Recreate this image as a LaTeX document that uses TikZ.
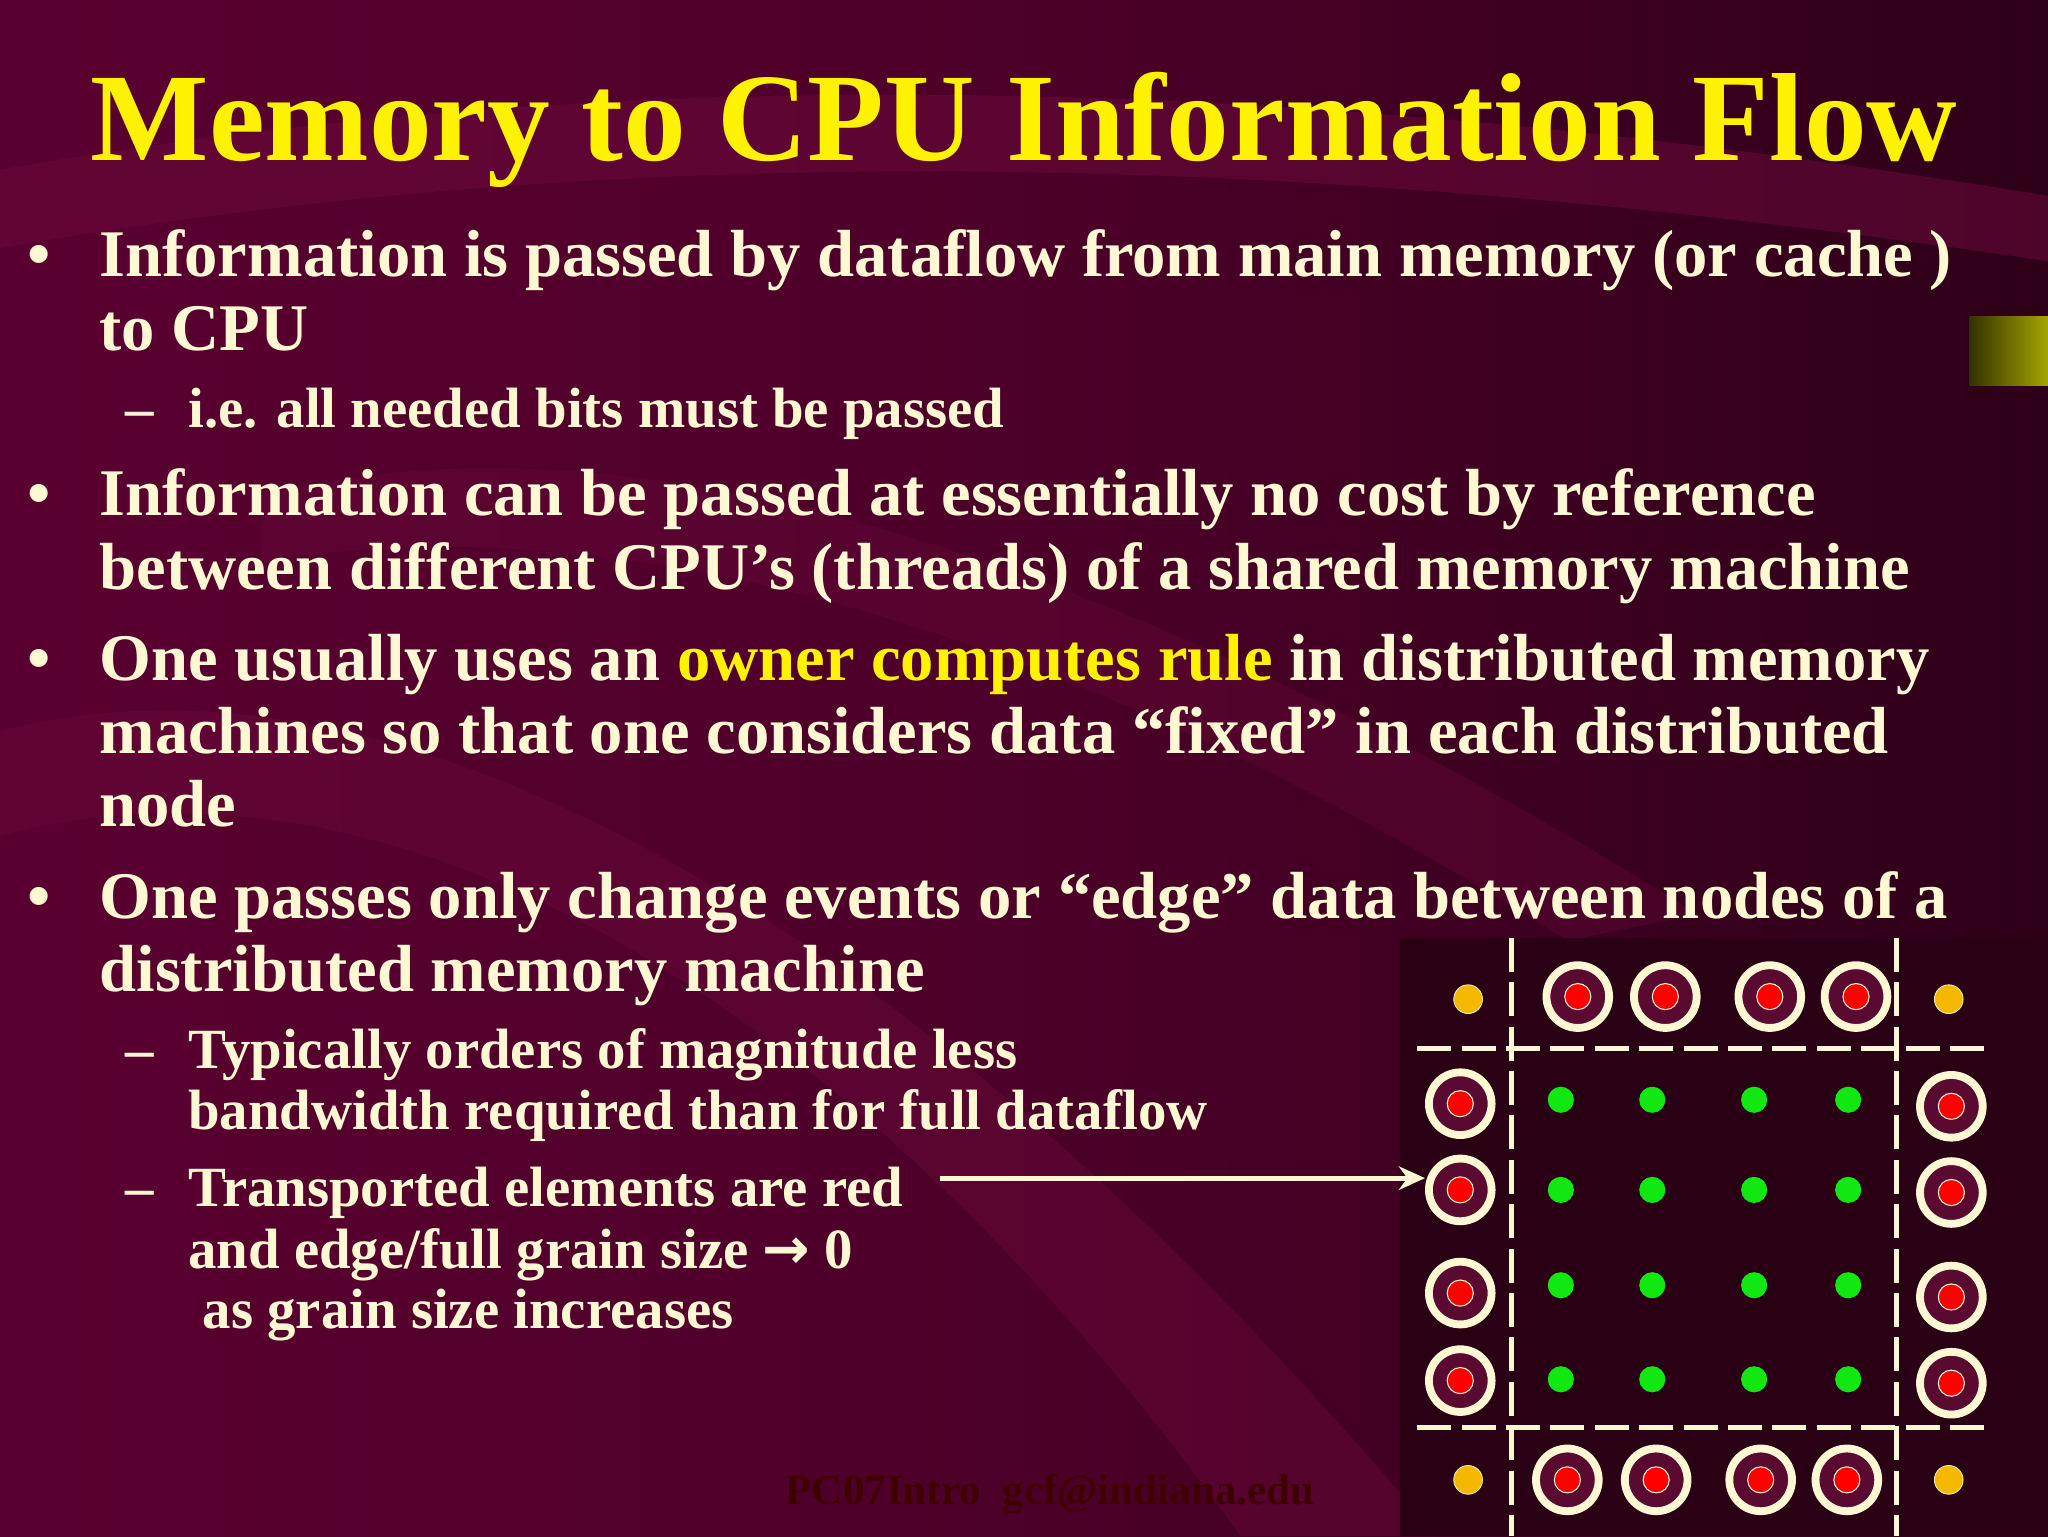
\documentclass[tikz,border=0pt]{standalone}
\usepackage{fontspec}
\usetikzlibrary{arrows.meta}
\setmainfont{Liberation Serif}
\newfontfamily\djv{DejaVu Sans}
\definecolor{cream}{HTML}{FFF8D2}
\definecolor{bgA}{HTML}{5A0030}
\definecolor{bgB}{HTML}{2E0018}
\definecolor{band}{HTML}{6A0A3A}
\definecolor{boxc}{HTML}{2A0014}
\definecolor{ringin}{HTML}{5A0A30}
\definecolor{gold}{HTML}{F5B800}
\definecolor{grn}{HTML}{11E811}
\tikzset{
  body/.style={anchor=base west,inner sep=0pt,text=cream,font=\fontsize{51}{56}\selectfont\bfseries},
  sub/.style={anchor=base west,inner sep=0pt,text=cream,font=\fontsize{43.5}{48}\selectfont\bfseries},
  ring/.style={circle,draw=cream,line width=6pt,fill=ringin,minimum size=48pt,inner sep=0pt},
  reddot/.style={circle,draw=cream,line width=0.8pt,fill=red,minimum size=20pt,inner sep=0pt},
  gdot/.style={circle,fill=grn,minimum size=20pt,inner sep=0pt},
  ydot/.style={circle,fill=gold,draw=cream,line width=0.6pt,minimum size=22pt,inner sep=0pt},
  dashline/.style={draw=cream,line width=4pt,dash pattern=on 26pt off 8pt},
}
\newcommand{\ringed}[3]{\node[ring] (#1) at (#2,#3) {}; \node[reddot] at (#1) {};}
\begin{document}
\begin{tikzpicture}[x=1pt,y=-1pt]
\useasboundingbox (0,0) rectangle (1568,1176);
\shade[left color=bgA,right color=bgB,middle color=bgA!85!black] (0,0) rectangle (1568,1176);
% swirl bands
\fill[band,opacity=0.55] (0,130) .. controls (400,60) and (900,40) .. (1568,150) -- (1568,200) .. controls (900,100) and (400,120) .. (0,190) -- cycle;
\fill[band,opacity=0.45] (0,560) .. controls (300,480) and (700,700) .. (1100,1176) -- (950,1176) .. controls (650,760) and (300,560) .. (0,640) -- cycle;
\fill[band,opacity=0.35] (200,380) .. controls (500,300) and (900,450) .. (1300,700) -- (1200,720) .. controls (850,500) and (500,380) .. (200,430) -- cycle;
% olive tab
\shade[left color=olive!40!black,right color=olive!70!yellow] (1508,242) rectangle (1568,295);
% title
\node[anchor=base,inner sep=0pt,text=yellow,font=\fontsize{96}{100}\selectfont\bfseries] (title) at (784,123) {Memory to CPU Information Flow};
% bullets
\foreach \yy in {212,395,521,703} \node[body,anchor=base] at (30,\yy) {\textbullet};
\node[body] (l1) at (76,212) {Information is passed by dataflow from main memory (or cache )};
\node[body] (l2) at (76,268) {to CPU};
\node[sub] at (96,327) {–};
\node[sub] (l3) at (144,327) {i.e. all needed bits must be passed};
\node[body] (l4) at (76,395) {Information can be passed at essentially no cost by reference};
\node[body] (l5) at (76,451) {between different CPU’s (threads) of a shared memory machine};
\node[body] (l6) at (76,521) {One usually uses an \textcolor{yellow}{owner computes rule} in distributed memory};
\node[body] (l7) at (76,577) {machines so that one considers data “fixed” in each distributed};
\node[body] (l8) at (76,633) {node};
\node[body] (l9) at (76,703) {One passes only change events or “edge” data between nodes of a};
\node[body] (l10) at (76,759) {distributed memory machine};
\node[sub] at (96,818) {–};
\node[sub] (l11) at (144,818) {Typically orders of magnitude less};
\node[sub] (l12) at (144,865) {bandwidth required than for full dataflow};
\node[sub] at (96,924) {–};
\node[sub] (l13) at (144,924) {Transported elements are red};
\node[sub] (l14) at (144,971) {and edge/full grain size {\djv\bfseries →} 0};
\node[sub] (l15) at (155,1017) {as grain size increases};
\node[anchor=base,inner sep=0pt,text=black!75!red,font=\fontsize{33}{36}\selectfont\bfseries] (foot) at (804,1152) {PC07Intro\ \ gcf@indiana.edu};
% diagram box
\fill[boxc] (1072,718) rectangle (1568,1176);
\draw[dashline] (1157,718) -- (1157,1176);
\draw[dashline] (1452,718) -- (1452,1176);
\draw[dashline] (1085,803) -- (1522,803);
\draw[dashline] (1085,1093) -- (1522,1093);
\node[ydot] at (1124,765) {};
\node[ydot] at (1492,765) {};
\node[ydot] at (1124,1133) {};
\node[ydot] at (1492,1133) {};
\ringed{t1}{1208}{763}\ringed{t2}{1275}{763}\ringed{t3}{1355}{763}\ringed{t4}{1421}{763}
\ringed{b1}{1200}{1133}\ringed{b2}{1268}{1133}\ringed{b3}{1348}{1133}\ringed{b4}{1414}{1133}
\ringed{lA}{1118}{845}\ringed{lB}{1118}{911}\ringed{lC}{1118}{990}\ringed{lD}{1118}{1057}
\ringed{rA}{1494}{847}\ringed{rB}{1494}{913}\ringed{rC}{1494}{993}\ringed{rD}{1494}{1059}
\foreach \gx in {1195,1265,1343,1415} \foreach \gy in {842,911,984,1056} \node[gdot] at (\gx,\gy) {};
\coordinate (arrS) at (720,902);
\draw[cream,line width=4pt,-{Stealth[length=20pt,width=18pt]}] (arrS) -- (arrS -| lB.west);
\end{tikzpicture}
\end{document}
